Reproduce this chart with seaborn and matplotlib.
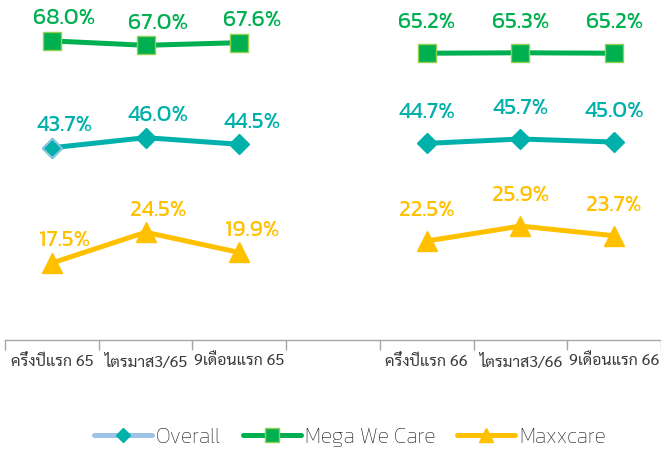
import matplotlib
matplotlib.use("Agg")
import matplotlib.pyplot as plt
from matplotlib.lines import Line2D
from matplotlib.ticker import FixedLocator
import numpy as np
import pandas as pd
import seaborn as sns

# ---------------- data ----------------
categories = ["ครึ่งปีแรก 65", "ไตรมาส3/65", "9เดือนแรก 65", "",
              "ครึ่งปีแรก 66", "ไตรมาส3/66", "9เดือนแรก 66"]
groups = ["65", "65", "65", None, "66", "66", "66"]
overall = [43.7, 46.0, 44.5, None, 44.7, 45.7, 45.0]
mega_we_care = [68.0, 67.0, 67.6, None, 65.2, 65.3, 65.2]
maxxcare = [17.5, 24.5, 19.9, None, 22.5, 25.9, 23.7]
series_names = ["Overall", "Mega We Care", "Maxxcare"]

# ---------------- styles ----------------
C_TEAL = "#00B0AA"
C_LBLUE = "#9DC3E6"
C_GREEN = "#00B050"
C_LGREEN = "#92D050"
C_GOLD = "#FFC000"

sns.set_theme(style="white")
plt.rcParams["font.family"] = ["Kanit", "DejaVu Sans"]

rows = []
for name, vals in zip(series_names, [overall, mega_we_care, maxxcare]):
    for i, (cat, g, v) in enumerate(zip(categories, groups, vals)):
        if v is None:
            continue
        rows.append({"series": name, "pos": i, "cat": cat, "group": g, "value": v})
df = pd.DataFrame(rows)

fig = plt.figure(figsize=(6.61, 4.51), dpi=100)
ax = fig.add_axes([5 / 661, (451 - 340) / 451, 656 / 661, 340 / 451])

style = {
    "Overall": dict(color=C_TEAL, marker="D", ms=10, mec=C_TEAL, mfc=C_TEAL),
    "Mega We Care": dict(color=C_GREEN, marker="s", ms=13, mec=C_LGREEN, mfc=C_GREEN),
    "Maxxcare": dict(color=C_GOLD, marker="^", ms=14, mec=C_GOLD, mfc=C_GOLD),
}

for name in series_names:
    sub = df[df.series == name]
    st = style[name]
    sns.lineplot(data=sub, x="pos", y="value", units="group", estimator=None,
                 color=st["color"], lw=3.6, marker=st["marker"], markersize=st["ms"],
                 markeredgecolor=st["mec"], markerfacecolor=st["mfc"],
                 markeredgewidth=1.0, ax=ax, legend=False)

# first Overall marker has a light blue outline
first = df[(df.series == "Overall")].iloc[[0]]
sns.scatterplot(data=first, x="pos", y="value", marker="D", s=95, color=C_TEAL,
                edgecolor=C_LBLUE, linewidth=1.2, ax=ax, legend=False, zorder=5)

# data labels
label_color = {"Overall": C_TEAL, "Mega We Care": C_GREEN, "Maxxcare": C_GOLD}
for _, r in df.iterrows():
    if r.group == "65":
        dx, dy = 9, 16
    else:
        dx, dy = 0, 22
    ax.annotate(f"{r.value:.1f}%", (r.pos, r.value), xytext=(dx, dy),
                textcoords="offset points", ha="center", va="center",
                fontsize=16.5, color=label_color[r.series], weight="normal")

ax.set_xlim(-0.5, len(categories) - 0.5)
ax.set_ylim(0, 77.3)
ax.set_xticks(range(len(categories)))
ax.set_xticklabels(categories, family=["Sarabun", "DejaVu Sans"], fontsize=11.5,
                   color="#3a3a3a", weight="normal")
ax.xaxis.set_minor_locator(FixedLocator(np.arange(-0.5, len(categories), 1.0)))
ax.tick_params(axis="x", which="major", length=0, pad=10)
ax.tick_params(axis="x", which="minor", length=7, width=1, color="#A6A6A6",
               direction="out", bottom=True)
ax.set_yticks([])
ax.set_xlabel("")
ax.set_ylabel("")
for s in ["top", "left", "right"]:
    ax.spines[s].set_visible(False)
ax.spines["bottom"].set_color("#A6A6A6")
ax.spines["bottom"].set_linewidth(1.0)

handles = [
    Line2D([], [], color=C_LBLUE, lw=3.6, marker="D", ms=7, mfc=C_TEAL, mec=C_TEAL),
    Line2D([], [], color=C_GREEN, lw=3.6, marker="s", ms=10, mfc=C_GREEN, mec=C_LGREEN),
    Line2D([], [], color=C_GOLD, lw=3.6, marker="^", ms=10, mfc=C_GOLD, mec=C_GOLD),
]
fig.legend(handles, series_names, loc="center", bbox_to_anchor=(350 / 661, 1 - 437 / 451),
           ncol=3, frameon=False, handlelength=2.7, handletextpad=0.2,
           columnspacing=1.0, labelcolor="#111111",
           prop={"family": ["Kanit", "DejaVu Sans"], "weight": "light", "size": 15.5})

fig.savefig("out.png", dpi=100)
